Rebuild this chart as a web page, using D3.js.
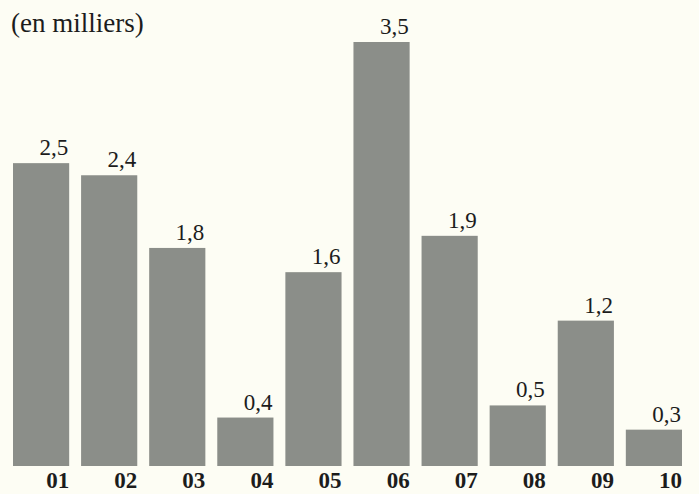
<!DOCTYPE html>
<html>
<head>
<meta charset="utf-8">
<script src="https://cdn.jsdelivr.net/npm/d3@7"></script>
<style>
  body { margin: 0; background: #fdfdf4; }
  svg { display: block; }
  text { font-family: "Liberation Serif", "DejaVu Serif", serif; fill: #1c1c1c; }
</style>
</head>
<body>
<svg width="699" height="494"></svg>
<script>
// années et valeurs (en milliers)
let years = ["01", "02", "03", "04", "05", "06", "07", "08", "09", "10"];
let values = [2.5, 2.4, 1.8, 0.4, 1.6, 3.5, 1.9, 0.5, 1.2, 0.3];
let valueLabels = ["2,5", "2,4", "1,8", "0,4", "1,6", "3,5", "1,9", "0,5", "1,2", "0,3"];

let svg = d3.select("svg");

// échelles
let x = d3.scaleBand()
    .domain(years)
    .range([13, 682])
    .paddingInner(0.175)
    .paddingOuter(0);

let y = d3.scaleLinear()
    .domain([0, 3.5])
    .range([466, 42]);

// titre
svg.append("text")
    .attr("x", 11)
    .attr("y", 32)
    .style("font-size", "27px")
    .text("(en milliers)");

// barres
svg.selectAll("rect.bar")
    .data(values)
    .enter().append("rect")
    .attr("class", "bar")
    .attr("x", function(d, i) { return x(years[i]); })
    .attr("y", function(d) { return y(d); })
    .attr("width", x.bandwidth())
    .attr("height", function(d) { return y(0) - y(d); })
    .attr("fill", "#8b8e89");

// valeurs au-dessus
svg.selectAll("text.val")
    .data(values)
    .enter().append("text")
    .attr("class", "val")
    .attr("x", function(d, i) { return x(years[i]) + x.bandwidth() - 1; })
    .attr("y", function(d) { return y(d) - 8; })
    .attr("text-anchor", "end")
    .style("font-size", "23px")
    .text(function(d, i) { return valueLabels[i]; });

// axe des années
let xAxis = svg.append("g")
    .attr("transform", "translate(0,488)");

xAxis.selectAll("text")
    .data(years)
    .enter().append("text")
    .attr("x", function(d) { return x(d) + x.bandwidth(); })
    .attr("text-anchor", "end")
    .style("font-size", "23px")
    .style("font-weight", "bold")
    .text(function(d) { return d; });
</script>
</body>
</html>
